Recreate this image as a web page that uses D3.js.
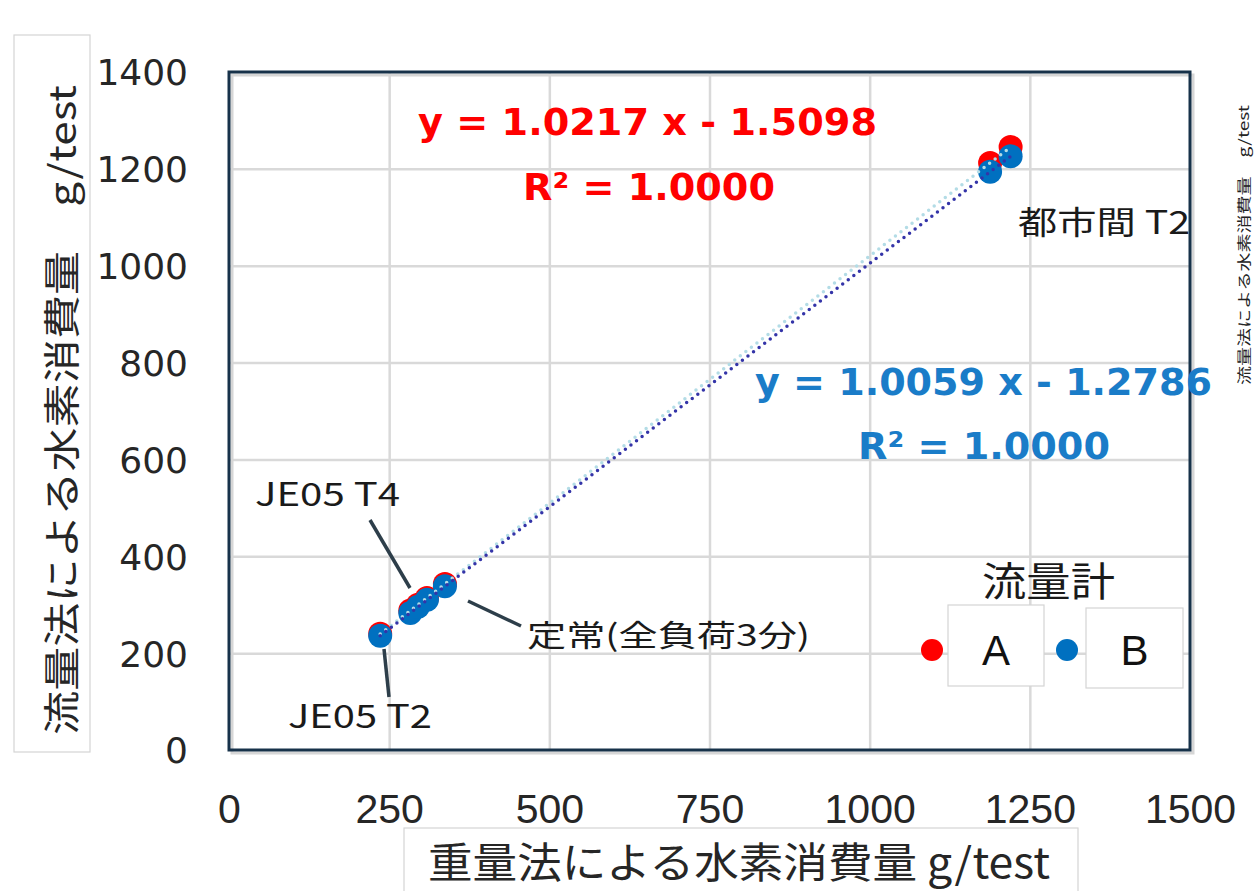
<!DOCTYPE html>
<html>
<head>
<meta charset="utf-8">
<script src="https://cdn.jsdelivr.net/npm/d3@7"></script>
<style>
  html, body { margin: 0; padding: 0; background: #ffffff; }
  svg { display: block; }
</style>
</head>
<body>
<svg id="chart" width="1259" height="891"></svg>
<script>
// Hydrogen consumption: gravimetric method (x) vs. flowmeter method (y), g/test
const gravimetric = [236, 283, 295, 309, 337, 1188, 1220];
const flowmeterA  = [240, 288, 300, 314, 343, 1212, 1245];
const flowmeterB  = [236, 283, 296, 310, 338, 1194, 1226];

// Linear fits shown on the chart
const fitA = { slope: 1.0217, intercept: -1.5098, r2: "1.0000" };
const fitB = { slope: 1.0059, intercept: -1.2786, r2: "1.0000" };

const xTicks = [0, 250, 500, 750, 1000, 1250, 1500];
const yTicks = [0, 200, 400, 600, 800, 1000, 1200, 1400];

const colorA = "#ff0000";
const colorB = "#0070c0";

const svg = d3.select("#chart");
const plot = { left: 229, right: 1190, top: 72, bottom: 750 };

const x = d3.scaleLinear().domain([0, 1500]).range([plot.left, plot.right]);
const y = d3.scaleLinear().domain([0, 1400]).range([plot.bottom, plot.top]);
const plain = d3.format("d");

// Axis title boxes
svg.append("rect").attr("x", 14).attr("y", 35).attr("width", 76).attr("height", 717)
  .attr("fill", "#fff").attr("stroke", "#d4d4d4").attr("stroke-width", 1.2);
svg.append("rect").attr("x", 404).attr("y", 828).attr("width", 674).attr("height", 80)
  .attr("fill", "#fff").attr("stroke", "#d4d4d4").attr("stroke-width", 1.2);

// Gridlines
svg.append("g")
  .attr("transform", `translate(0,${plot.bottom})`)
  .call(d3.axisBottom(x).tickValues(xTicks.slice(1, -1)).tickSize(-(plot.bottom - plot.top)).tickFormat(""))
  .call(g => g.select(".domain").remove())
  .call(g => g.selectAll("line").attr("stroke", "#d9d9d9").attr("stroke-width", 2.5));
svg.append("g")
  .attr("transform", `translate(${plot.left},0)`)
  .call(d3.axisLeft(y).tickValues(yTicks.slice(1, -1)).tickSize(-(plot.right - plot.left)).tickFormat(""))
  .call(g => g.select(".domain").remove())
  .call(g => g.selectAll("line").attr("stroke", "#d9d9d9").attr("stroke-width", 2.5));

// Plot frame with a soft shadow
svg.append("rect")
  .attr("x", plot.left + 3).attr("y", plot.top + 3)
  .attr("width", plot.right - plot.left).attr("height", plot.bottom - plot.top)
  .attr("fill", "none").attr("stroke", "#d6d6d6").attr("stroke-width", 3);
svg.append("rect")
  .attr("x", plot.left).attr("y", plot.top)
  .attr("width", plot.right - plot.left).attr("height", plot.bottom - plot.top)
  .attr("fill", "none").attr("stroke", "#17324a").attr("stroke-width", 3);

// Tick labels
svg.append("g")
  .attr("transform", `translate(${plot.left - 41},0)`)
  .call(d3.axisLeft(y).tickValues(yTicks).tickFormat(plain).tickSize(0).tickPadding(0))
  .call(g => g.select(".domain").remove())
  .call(g => g.selectAll("text")
    .attr("font-family", "DejaVu Sans, Verdana, sans-serif")
    .attr("font-size", 36).attr("fill", "#262626").attr("dy", "0.36em"));
svg.append("g")
  .attr("transform", `translate(0,794)`)
  .call(d3.axisBottom(x).tickValues(xTicks).tickFormat(plain).tickSize(0).tickPadding(0))
  .call(g => g.select(".domain").remove())
  .call(g => g.selectAll("text")
    .attr("font-family", "Liberation Sans, Arial, sans-serif")
    .attr("font-size", 41).attr("fill", "#262626").attr("dy", "0.71em"));

// Axis titles
svg.append("text")
  .attr("transform", "translate(76,735) rotate(-90)")
  .attr("font-family", "Noto Sans CJK JP, sans-serif").attr("font-size", 37)
  .attr("fill", "#262626")
  .attr("textLength", 650).attr("lengthAdjust", "spacingAndGlyphs")
  .text("流量法による水素消費量　g/test");
svg.append("text")
  .attr("x", 428).attr("y", 878)
  .attr("font-family", "Noto Sans CJK JP, sans-serif").attr("font-size", 42)
  .attr("fill", "#262626")
  .attr("textLength", 622).attr("lengthAdjust", "spacingAndGlyphs")
  .text("重量法による水素消費量 g/test");
svg.append("text")
  .attr("transform", "translate(1249,385) rotate(-90)")
  .attr("font-family", "Noto Sans CJK JP, sans-serif").attr("font-size", 14)
  .attr("fill", "#222")
  .attr("textLength", 280).attr("lengthAdjust", "spacingAndGlyphs")
  .text("流量法による水素消費量　g/test");

// Leader lines for point annotations
const leaders = [
  [[370, 520], [410, 588]],
  [[468, 601], [521, 626]],
  [[384, 649], [389, 697]]
];
svg.append("g").selectAll("line").data(leaders).join("line")
  .attr("x1", d => d[0][0]).attr("y1", d => d[0][1])
  .attr("x2", d => d[1][0]).attr("y2", d => d[1][1])
  .attr("stroke", "#2d3e4a").attr("stroke-width", 3.5);

// Data points
const ptsA = gravimetric.map((g, i) => [g, flowmeterA[i]]);
const ptsB = gravimetric.map((g, i) => [g, flowmeterB[i]]);
svg.append("g").selectAll("circle").data(ptsA).join("circle")
  .attr("cx", d => x(d[0])).attr("cy", d => y(d[1])).attr("r", 12)
  .attr("fill", colorA);
svg.append("g").selectAll("circle").data(ptsB).join("circle")
  .attr("cx", d => x(d[0])).attr("cy", d => y(d[1])).attr("r", 12)
  .attr("fill", colorB);

// Dotted trendlines
const xMin = d3.min(gravimetric), xMax = d3.max(gravimetric);
const line = d3.line().x(d => x(d[0])).y(d => y(d[1]));
function trend(fit) {
  return [xMin, xMax].map(v => [v, fit.slope * v + fit.intercept]);
}
svg.append("path").datum(trend(fitA)).attr("d", line)
  .attr("fill", "none").attr("stroke", "#b3dce6").attr("stroke-width", 3.5)
  .attr("stroke-linecap", "round").attr("stroke-dasharray", "0 7");
svg.append("path").datum(trend(fitB)).attr("d", line)
  .attr("fill", "none").attr("stroke", "#3434a8").attr("stroke-width", 3.5)
  .attr("stroke-linecap", "round").attr("stroke-dasharray", "0 7");

// Equation labels
const eqFont = "DejaVu Sans, Verdana, sans-serif";
const fmtFit = f => `y = ${f.slope.toFixed(4)} x - ${Math.abs(f.intercept).toFixed(4)}`;
svg.append("text").attr("x", 418).attr("y", 135)
  .attr("font-family", eqFont).attr("font-weight", "bold").attr("font-size", 38)
  .attr("fill", colorA).attr("textLength", 459).attr("lengthAdjust", "spacingAndGlyphs")
  .text(fmtFit(fitA));
svg.append("text").attr("x", 523).attr("y", 200)
  .attr("font-family", eqFont).attr("font-weight", "bold").attr("font-size", 38)
  .attr("fill", colorA).attr("textLength", 252).attr("lengthAdjust", "spacingAndGlyphs")
  .text(`R² = ${fitA.r2}`);
svg.append("text").attr("x", 755).attr("y", 395)
  .attr("font-family", eqFont).attr("font-weight", "bold").attr("font-size", 38)
  .attr("fill", "#1a7cc8").attr("textLength", 457).attr("lengthAdjust", "spacingAndGlyphs")
  .text(fmtFit(fitB));
svg.append("text").attr("x", 858).attr("y", 459)
  .attr("font-family", eqFont).attr("font-weight", "bold").attr("font-size", 38)
  .attr("fill", "#1a7cc8").attr("textLength", 252).attr("lengthAdjust", "spacingAndGlyphs")
  .text(`R² = ${fitB.r2}`);

// Point annotations
const notes = [
  { text: "都市間 T2", x: 1018, y: 234, w: 172, size: 32 },
  { text: "JE05 T4", x: 255, y: 506, w: 145, size: 32 },
  { text: "定常(全負荷3分)", x: 527, y: 646, w: 283, size: 30 },
  { text: "JE05 T2", x: 288, y: 728, w: 144, size: 32 }
];
svg.append("g").selectAll("text").data(notes).join("text")
  .attr("x", d => d.x).attr("y", d => d.y)
  .attr("font-family", "Noto Sans CJK JP, sans-serif").attr("font-size", d => d.size)
  .attr("fill", "#1a1a1a")
  .attr("textLength", d => d.w).attr("lengthAdjust", "spacingAndGlyphs")
  .text(d => d.text);

// Legend
const legend = svg.append("g");
legend.append("text").attr("x", 982).attr("y", 596)
  .attr("font-family", "Noto Sans CJK JP, sans-serif").attr("font-size", 40)
  .attr("fill", "#1a1a1a").attr("textLength", 133).attr("lengthAdjust", "spacingAndGlyphs")
  .text("流量計");
const legendItems = [
  { name: "A", color: colorA, dot: 932, box: [948, 605, 96, 81] },
  { name: "B", color: colorB, dot: 1067, box: [1086, 608, 97, 80] }
];
legendItems.forEach(it => {
  legend.append("rect")
    .attr("x", it.box[0]).attr("y", it.box[1]).attr("width", it.box[2]).attr("height", it.box[3])
    .attr("fill", "#fff").attr("stroke", "#d4d4d4").attr("stroke-width", 1.2);
  legend.append("circle").attr("cx", it.dot).attr("cy", 650).attr("r", 11).attr("fill", it.color);
  legend.append("text")
    .attr("x", it.box[0] + it.box[2] / 2).attr("y", 665)
    .attr("text-anchor", "middle")
    .attr("font-family", "Liberation Sans, Arial, sans-serif").attr("font-size", 42)
    .attr("fill", "#111")
    .text(it.name);
});
</script>
</body>
</html>
